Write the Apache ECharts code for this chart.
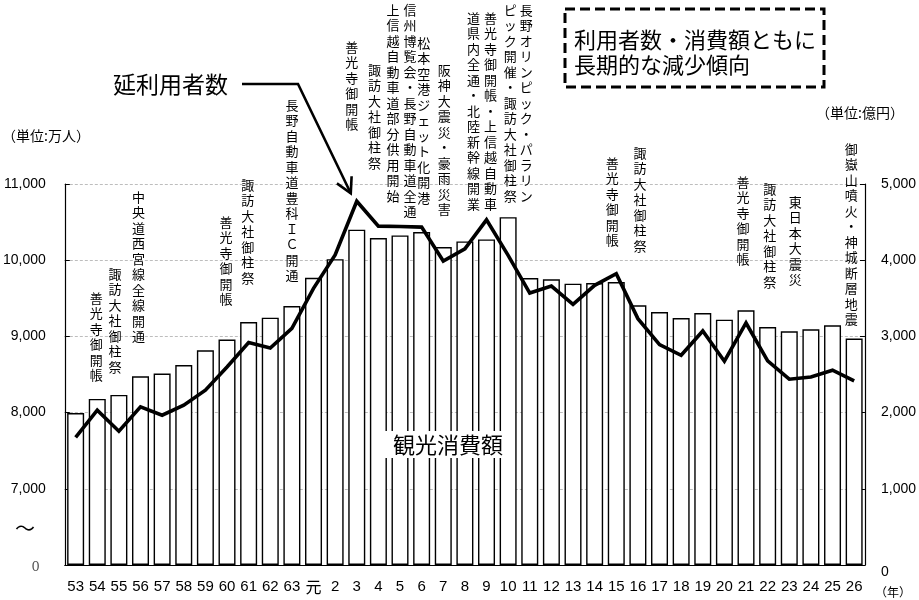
<!DOCTYPE html>
<html>
<head>
<meta charset="utf-8">
<script src="https://cdn.jsdelivr.net/npm/echarts@6/dist/echarts.min.js"></script>
<style>
    html, body { margin: 0; padding: 0; background: #fff; }
    #main { width: 919px; height: 600px; }
</style>
</head>
<body>
<div id="main"></div>
<script>
// 年（昭和53年～平成26年）
var years = ['53', '54', '55', '56', '57', '58', '59', '60', '61', '62', '63', '元',
    '2', '3', '4', '5', '6', '7', '8', '9', '10', '11', '12',
    '13', '14', '15', '16', '17', '18', '19', '20', '21', '22', '23', '24', '25', '26'];

// 観光消費額（億円）: 棒
var spend = [1995, 2180, 2232, 2477, 2512, 2625, 2818, 2958, 3189, 3246, 3398, 3770,
    4014, 4400, 4290, 4325, 4369, 4172, 4246, 4273, 4565, 3766, 3750,
    3692, 3700, 3713, 3408, 3320, 3241, 3307, 3220, 3342, 3123, 3067, 3093, 3145, 2971];

// 延利用者数（万人）: 折れ線
var users = [7674, 8031, 7756, 8075, 7966, 8097, 8294, 8599, 8919, 8848, 9106, 9630,
    10070, 10774, 10447, 10443, 10434, 9989, 10150, 10530, 10063, 9569, 9660,
    9421, 9670, 9823, 9233, 8892, 8752, 9071, 8674, 9176, 8678, 8438, 8468, 8556, 8416];

// 左軸は 6,000 から（表示は 0 と波線）
var leftTicks = [6000, 7000, 8000, 9000, 10000, 11000];
var rightTicks = [0, 1000, 2000, 3000, 4000, 5000];

// 出来事の注記 [年, 文字, 横ずれ, 上端]
var notes = [
    ['54', '善光寺御開帳', -1, 290],
    ['55', '諏訪大社御柱祭', -4, 266],
    ['56', '中央道西宮線全線開通', -2, 189],
    ['60', '善光寺御開帳', -1, 214],
    ['61', '諏訪大社御柱祭', -1, 177],
    ['63', '長野自動車道豊科ＩＣ開通', 0, 97],
    ['3', '善光寺御開帳', -5, 39],
    ['4', '諏訪大社御柱祭', -4, 62],
    ['5', '上信越自動車道部分供用開始', -7, 2],
    ['5', '信州博覧会・長野自動車道全通', 10, 2],
    ['6', '松本空港ジェット化開港', 2, 35],
    ['7', '阪神大震災・豪雨災害', 1, 62],
    ['9', '道県内全通・北陸新幹線開業', -13, 10],
    ['9', '善光寺御開帳・上信越自動車', 4, 10],
    ['10', 'ピック開催・諏訪大社御柱祭', 2, 2],
    ['10', '長野オリンピック・パラリン', 18, 2],
    ['15', '善光寺御開帳', -4, 155],
    ['16', '諏訪大社御柱祭', 2, 145],
    ['21', '善光寺御開帳', -3, 174],
    ['22', '諏訪大社御柱祭', 2, 181],
    ['23', '東日本大震災', 6, 194],
    ['26', '御嶽山噴火・神城断層地震', -3, 141]
];

var jp = '"Noto Sans CJK JP", sans-serif';
var num = '"Liberation Sans", Arial, sans-serif';

function comma(v) {
    return String(v).replace(/\B(?=(\d{3})+(?!\d))/g, ',');
}

var chart = echarts.init(document.getElementById('main'));

var option = {
    backgroundColor: '#fff',
    animation: false,
    grid: { left: 61, right: 52, top: 184, bottom: 35 },
    xAxis: {
        type: 'category',
        data: years,
        axisTick: { show: false },
        axisLine: { lineStyle: { color: '#000', width: 1.2 } },
        axisLabel: {
            interval: 0,
            margin: 14,
            color: '#000',
            fontSize: 15,
            fontFamily: num,
            formatter: function (v) {
                return v === '元' ? '{g|元}' : v;
            },
            rich: { g: { fontFamily: jp, fontSize: 16, color: '#000' } }
        }
    },
    yAxis: [{
        type: 'value',
        min: leftTicks[0],
        max: leftTicks[leftTicks.length - 1],
        interval: 1000,
        axisLine: { show: true, lineStyle: { color: '#000', width: 1.2 } },
        axisTick: { show: true, inside: true, length: 5, lineStyle: { color: '#000' } },
        splitLine: { show: true, lineStyle: { color: '#bdbdbd', type: [3, 2], width: 1 } },
        axisLabel: {
            margin: 19,
            color: '#000',
            fontSize: 14,
            fontFamily: num,
            formatter: function (v) {
                return v === leftTicks[0] ? '{z|0}' : comma(v);
            },
            rich: { z: { fontFamily: '"DejaVu Serif", serif', fontSize: 13, color: '#555', padding: [6, 6, 0, 0] } }
        }
    }, {
        type: 'value',
        min: rightTicks[0],
        max: rightTicks[rightTicks.length - 1],
        interval: 1000,
        axisLine: { show: true, lineStyle: { color: '#000', width: 1.2 } },
        axisTick: { show: true, inside: true, length: 5, lineStyle: { color: '#000' } },
        splitLine: { show: false },
        axisLabel: {
            margin: 16,
            color: '#000',
            fontSize: 14,
            fontFamily: num,
            formatter: function (v) {
                return v === 0 ? '{z|0}' : comma(v);
            },
            rich: { z: { fontFamily: num, fontSize: 14, color: '#000', padding: [14, 0, 0, 0] } }
        }
    }],
    series: [{
        name: '観光消費額',
        type: 'bar',
        yAxisIndex: 1,
        data: spend,
        barWidth: 17,
        itemStyle: { color: '#fff', borderColor: '#000', borderWidth: 1.4 },
        z: 2
    }, {
        name: '延利用者数',
        type: 'line',
        yAxisIndex: 0,
        data: users,
        showSymbol: false,
        lineStyle: { color: '#000', width: 3.6, join: 'miter' },
        z: 5
    }]
};
chart.setOption(option);

// 注記・矢印など
var g = [];
notes.forEach(function (n) {
    var x = chart.convertToPixel({ xAxisIndex: 0 }, n[0]) + n[2];
    g.push({
        type: 'text',
        z: 20,
        style: {
            text: n[1].split('').join('\n'),
            x: x,
            y: n[3],
            fill: '#000',
            font: '13px ' + jp,
            textAlign: 'center',
            textVerticalAlign: 'top',
            lineHeight: 15.5
        }
    });
});

// 延利用者数 の矢印（平成3年のピークへ）
var tip = chart.convertToPixel({ xAxisIndex: 0, yAxisIndex: 0 }, ['3', users[13]]);
tip = [tip[0] - 6, tip[1] - 8];
var knee = [298, 84];
var dx = tip[0] - knee[0], dy = tip[1] - knee[1];
var len = Math.sqrt(dx * dx + dy * dy);
var ux = dx / len, uy = dy / len;
function wing(a) {
    var c = Math.cos(a), s = Math.sin(a);
    var bx = -ux, by = -uy;
    return [tip[0] + 17 * (bx * c - by * s), tip[1] + 17 * (bx * s + by * c)];
}
g.push({
    type: 'polyline', z: 20,
    shape: { points: [[242, 84], knee, tip] },
    style: { stroke: '#000', lineWidth: 2.6, fill: null }
});
g.push({
    type: 'polyline', z: 20,
    shape: { points: [wing(0.5), tip, wing(-0.5)] },
    style: { stroke: '#000', lineWidth: 2.6, fill: null }
});
g.push({
    type: 'text', z: 20,
    style: { text: '延利用者数', x: 113, y: 84, fill: '#000', font: '23px ' + jp, textVerticalAlign: 'middle' }
});

// 観光消費額 ラベル
g.push({
    type: 'rect', z: 15,
    shape: { x: 381, y: 431, width: 134, height: 27 },
    style: { fill: '#fff', stroke: null }
});
g.push({
    type: 'text', z: 20,
    style: { text: '観光消費額', x: 448, y: 445, fill: '#000', font: '22px ' + jp, textAlign: 'center', textVerticalAlign: 'middle' }
});

// まとめの枠
g.push({
    type: 'rect', z: 20,
    shape: { x: 565, y: 9, width: 259, height: 78 },
    style: { fill: '#fff', stroke: '#000', lineWidth: 3, lineDash: [10, 5] }
});
g.push({
    type: 'text', z: 21,
    style: {
        text: '利用者数・消費額ともに\n長期的な減少傾向',
        x: 574, y: 27, fill: '#000', font: '22px ' + jp, lineHeight: 25, textVerticalAlign: 'top'
    }
});

// 単位・軸の補助
g.push({
    type: 'text', z: 20,
    style: { text: '（単位:万人）', x: 2, y: 136, fill: '#000', font: '14px ' + jp, textVerticalAlign: 'middle' }
});
g.push({
    type: 'text', z: 20,
    style: { text: '（単位:億円）', x: 816, y: 113, fill: '#000', font: '14px ' + jp, textVerticalAlign: 'middle' }
});
g.push({
    type: 'text', z: 20,
    style: { text: '～', x: 25, y: 528, fill: '#000', font: '20px ' + jp, textAlign: 'center', textVerticalAlign: 'middle' }
});
g.push({
    type: 'text', z: 20,
    style: { text: '（年）', x: 893, y: 592, fill: '#000', font: '12px ' + jp, textAlign: 'center', textVerticalAlign: 'middle' }
});

chart.setOption({ graphic: g });
</script>
</body>
</html>
